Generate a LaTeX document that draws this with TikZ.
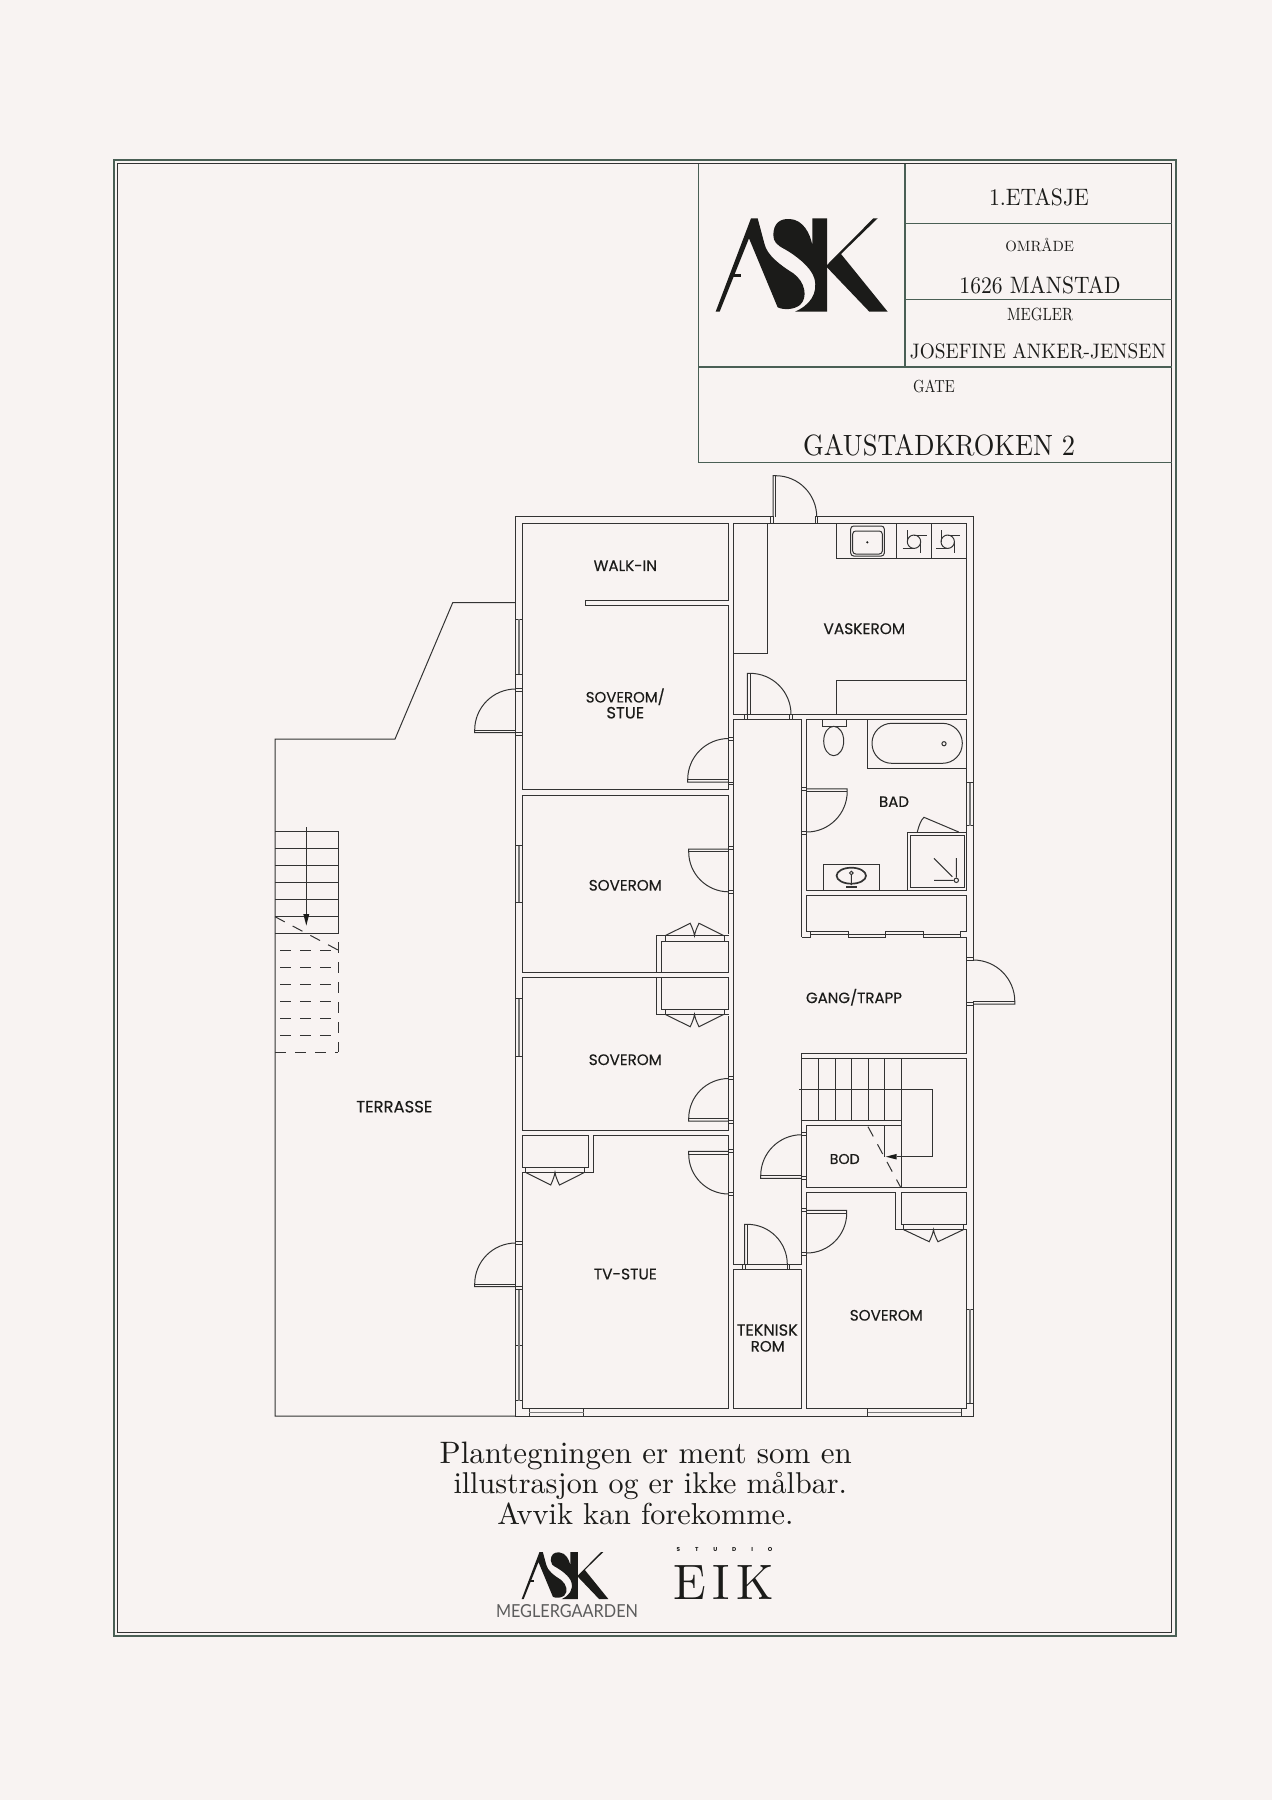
\documentclass[tikz,border=0pt]{standalone}
\usepackage{fontspec}
\usepackage{graphicx}
\newfontfamily\lab[FakeBold=0.25]{Poppins}
\newfontfamily\plainsans{Poppins}
\newfontfamily\lite{Lato}
\definecolor{bg}{HTML}{F8F3F2}
\definecolor{lc}{HTML}{333333}
\definecolor{ink}{HTML}{1B1B19}
\definecolor{frame}{HTML}{4A5F55}
\tikzset{
  wall/.style={draw=lc,line width=1pt,line join=miter},
  dashline/.style={draw=lc,line width=1pt,dash pattern=on 11pt off 9pt},
  framel/.style={draw=frame,line width=1.3pt},
  txt/.style={inner sep=0pt,outer sep=0pt,text=ink},
}
% door: hinge x,y, radius, leaf direction ax,ay, swing direction bx,by
\newcommand\dr[7]{%
  \draw[wall] ({#1-2.6*#6},{#2-2.6*#7}) -- ({#1-2.6*#6+#3*#4},{#2-2.6*#7+#3*#5}) -- ({#1+#3*#4},{#2+#3*#5})
    .. controls ({#1+#3*#4+.552*#3*#6},{#2+#3*#5+.552*#3*#7}) and ({#1+#3*#6+.552*#3*#4},{#2+#3*#7+.552*#3*#5}) .. ({#1+#3*#6},{#2+#3*#7});
  \draw[wall] (#1,#2) -- ({#1+#3*#4},{#2+#3*#5});}
\newcommand\jb[4]{\draw[wall,fill=bg] (#1,#2) rectangle (#3,#4);}
\newcommand\winv[4]{\draw[wall,fill=bg] (#1,#2) rectangle (#3,#4);
  \draw[lc!65,line width=1.8pt] ({(#1+#3)/2},#2) -- ({(#1+#3)/2},#4);}
\newcommand\winh[4]{\draw[wall,fill=bg] (#1,#2) rectangle (#3,#4);
  \draw[lc!65,line width=1.6pt] (#1,{(#2+#4)/2}) -- (#3,{(#2+#4)/2});}
% bifold: x1 x2 y0 ytip
\newcommand\bifold[4]{%
  \draw[wall] (#1,#3) -- ({(#1+#2)/2-4.3},#4) .. controls ({(#1+#2)/2-2},{#4+(#3-#4)*.4}) and ({(#1+#2)/2-.6},{#4+(#3-#4)*.7}) .. ({(#1+#2)/2},#3)
     .. controls ({(#1+#2)/2+.6},{#4+(#3-#4)*.7}) and ({(#1+#2)/2+2},{#4+(#3-#4)*.4}) .. ({(#1+#2)/2+4.5},#4) -- (#2,#3);}
\newcommand\tapsym[1]{\begin{scope}[shift={(#1,0)}]
  \draw[wall] (914,541.7) circle (6.7);
  \draw[wall] (914,535) -- (926.7,535) (920.7,541.7) -- (920.7,553.3) (907.3,530) -- (907.3,541.7) (902.7,548.4) -- (914,548.4);
  \end{scope}}
\newcommand\asklogo{%
  \fill[ink] (32,305) -- (138,25) -- (158,25) -- (178,100) .. controls (185,135) and (225,165) .. (265,190) .. controls (300,215) and (310,262) .. (285,285) .. controls (265,300) and (235,300) .. (218,292) -- (132,85) -- (44,305) -- cycle;
  \fill[ink] (80,192) rectangle (107,202);
  \fill[ink] (205,75) .. controls (205,40) and (225,25) .. (255,27) .. controls (295,30) and (315,70) .. (322,105) -- (322,25) -- (366,25) -- (366,305) -- (270,305) .. controls (315,285) and (340,250) .. (328,205) .. controls (318,170) and (270,135) .. (240,118) .. controls (215,105) and (205,95) .. (205,75) -- cycle;
  \fill[ink] (366,165) -- (505,25) -- (518,25) -- (408,132) -- (548,305) -- (493,305) -- (366,172) -- cycle;}
\newcommand\rl[2]{\resizebox{#1pt}{!}{\lab #2}}
\begin{document}
\begin{tikzpicture}[x=1pt,y=-1pt]
\fill[bg] (0,0) rectangle (1272,1800);
\useasboundingbox (0,0) rectangle (1272,1800);
% frame
\draw[framel,line width=1.1pt] (114,160) rectangle (1176,1636);
\draw[draw=lc,line width=1pt] (117,163.5) rectangle (1171.5,1632);
% title block
\draw[framel] (698.7,163.5) -- (698.7,462.7) -- (1171.5,462.7);
\draw[framel] (698.7,367) -- (1171.5,367);
\draw[framel] (905,163.5) -- (905,367);
\draw[framel] (905,223.3) -- (1171.5,223.3);
\draw[framel] (905,299.3) -- (1171.5,299.3);
\begin{scope}[shift={(705,210)},scale=0.33333]\asklogo\end{scope}
\node[txt] (etg) at (1039,197.7) {\resizebox{100pt}{17pt}{1.ETASJE}};
\node[txt] (omr) at (1039.7,245) {\resizebox{68.7pt}{!}{OMRÅDE}};
\node[txt] (post) at (1040,285.7) {\resizebox{161pt}{17pt}{1626 MANSTAD}};
\node[txt] (meg) at (1040,314) {\resizebox{66pt}{12.5pt}{MEGLER}};
\node[txt] (jos) at (1038,351.3) {\resizebox{256pt}{15pt}{JOSEFINE ANKER-JENSEN}};
\node[txt] (gate) at (934,386.7) {\resizebox{41.7pt}{12.5pt}{GATE}};
\node[txt] (addr) at (939,445) {\resizebox{272pt}{21pt}{GAUSTADKROKEN 2}};
% terrace
\draw[wall] (515.7,602.7) -- (452.7,602.7) -- (395,739) -- (275,739) -- (275,1416) -- (515.7,1416);
% outer stairs
\draw[wall] (275,831) -- (338,831) -- (338,933) -- (275,933);
\foreach \yy in {848,865,882,899,916} \draw[wall] (275,\yy) -- (338,\yy);
\draw[wall] (306.3,827.3) -- (306.3,914);
\fill[ink] (306.3,925.5) -- (303.3,914) -- (309.3,914) -- cycle;
\foreach \yy in {950,967,984,1001,1018,1035} \draw[dashline,dash phase=-5pt] (275,\yy) -- (338,\yy);
\draw[dashline,dash phase=0pt] (275,1052) -- (338,1052);
\draw[dashline] (338,942.3) -- (338,1052);
\draw[dashline] (275,916.7) -- (338,950);
% outer wall
\draw[wall] (773.3,516.7) -- (515.7,516.7) -- (515.7,1416) -- (973.3,1416) -- (973.3,1003) (973.3,959) -- (973.3,516.7) -- (815,516.7);
% left column rooms
\draw[wall] (728.7,600) -- (585.3,600) -- (585.3,605.3) -- (728.7,605.3) -- (728.7,789.3) -- (522.3,789.3) -- (522.3,523.3) -- (728.7,523.3) -- cycle;
\draw[wall] (522.3,795) rectangle (728.7,972.3);
\fill[bg] (655,934) rectangle (730,971.3);
\draw[wall] (728.7,935.7) -- (656,935.7) -- (656,972.3);
\draw[wall] (661.3,941.3) rectangle (728.7,972.3);
\draw[wall] (665,935.7) -- (665,941.3) (724,935.7) -- (724,941.3);
\bifold{665}{724}{935.7}{923.3}
\draw[wall] (522.3,977.7) rectangle (728.7,1130.7);
\fill[bg] (655,978.7) rectangle (730,1016);
\draw[wall] (656,977.7) -- (656,1014.3) -- (728.7,1014.3);
\draw[wall] (661.3,977.7) rectangle (728.7,1009);
\draw[wall] (665,1009) -- (665,1014.3) (724,1009) -- (724,1014.3);
\bifold{665}{724}{1014.3}{1026.7}
\draw[wall] (522.3,1172.3) -- (593.7,1172.3) -- (593.7,1135.7) -- (728.7,1135.7) -- (728.7,1408.7) -- (522.3,1408.7) -- cycle;
\draw[wall] (522.3,1135.7) rectangle (588.3,1167.3);
\draw[wall] (525.3,1167.3) -- (525.3,1172.3) (584.7,1167.3) -- (584.7,1172.3);
\bifold{525.3}{584.7}{1172.3}{1185}
% vaskerom
\draw[wall] (733.3,523.3) rectangle (966.7,714.3);
\draw[wall] (767.3,523.3) -- (767.3,653) -- (733.3,653);
\draw[wall] (836,523.3) -- (836,558.3) -- (966.7,558.3);
\draw[wall] (896,523.3) -- (896,558.3) (931.3,523.3) -- (931.3,558.3);
\draw[wall,rounded corners=3pt] (850.7,526) rectangle (884.3,556);
\draw[wall,rounded corners=3pt] (852.7,531) rectangle (882.3,554);
\fill[ink] (867.3,542.3) circle (1.2);
\tapsym{0}\tapsym{33.7}
\draw[wall] (836,714.3) -- (836,680.7) -- (966.7,680.7);
% hallway
\draw[wall] (801.7,937) -- (801.7,719.3) -- (733.3,719.3) -- (733.3,1264.3) -- (801.7,1264.3) -- (801.7,1053.3) -- (966.7,1053.3) -- (966.7,937) -- (960.7,937);
\draw[wall] (801.7,937) -- (810.7,937) -- (810.7,931.7);
% bad
\draw[wall] (806.7,719.7) rectangle (966.7,890.7);
\draw[wall] (822,719.7) rectangle (846,726.5);
\draw[wall] (833.7,741) ellipse (10 and 14.7);
\draw[wall] (867.3,719.7) rectangle (966.7,768);
\draw[wall,rounded corners=19.8pt] (872,723.3) rectangle (962.3,763.3);
\draw[wall] (944,743.7) circle (2.1);
\draw[wall] (907.7,890.7) rectangle (966.7,832.3);
\draw[wall] (910.7,835) rectangle (964,887.7);
\draw[wall] (917.3,832) .. controls (919,825) and (921,820) .. (924,817.3) -- (958.7,832);
\draw[wall] (956.3,880.3) circle (2.2);
\draw[wall] (934,858.3) -- (952.3,876.7) (934,880.3) -- (953.7,880.3) (956.3,858) -- (956.3,877.7);
\draw[wall] (823.3,890.7) -- (823.3,864.3) -- (879.7,864.3) -- (879.7,890.7);
\draw[draw=lc,line width=1.7pt] (851.3,875.7) ellipse (14.7 and 8);
\draw[wall] (851.3,873) circle (1.8) (851.3,875) -- (851.3,885);
\draw[draw=lc,line width=2pt] (846,886.5) -- (857,886.5);
% storage under bad
\draw[wall] (810.7,931.7) -- (806.7,931.7) -- (806.7,895.7) -- (966.7,895.7) -- (966.7,931.7) -- (960.7,931.7) -- (960.7,937);
\draw[wall] (810.7,931.7) rectangle (848.3,934.3);
\draw[wall] (848.3,934.3) rectangle (885.7,937);
\draw[wall] (885.7,931.7) rectangle (923.3,934.3);
\draw[wall] (923.3,934.3) rectangle (960.7,937);
% stairs and bod
\draw[wall] (801.7,1058.7) -- (966.7,1058.7) -- (966.7,1187.3) -- (806.7,1187.3) -- (806.7,1125.7) -- (901,1125.7);
\draw[wall] (801.7,1120.7) -- (901,1120.7);
\draw[wall] (901,1058.7) -- (901,1187.3);
\foreach \xx in {818.3,835,851.3,868,884.7} \draw[wall] (\xx,1058.7) -- (\xx,1120.7);
\draw[wall] (884.7,1125.7) -- (884.7,1156.7);
\draw[dashline] (868,1126.7) -- (900.5,1187);
\draw[wall] (799.3,1089.7) -- (932,1089.7) -- (932,1156.7) -- (896.7,1156.7);
\fill[ink] (885.7,1156.7) -- (896.7,1153.9) -- (896.7,1159.5) -- cycle;
% soverom right
\draw[wall] (806.7,1408.7) -- (806.7,1192.7) -- (895.7,1192.7) -- (895.7,1229.7) -- (966.7,1229.7) -- (966.7,1408.7) -- cycle;
\draw[wall] (901,1192.7) rectangle (966.7,1224.3);
\draw[wall] (903.7,1224.3) -- (903.7,1229.7) (963.3,1224.3) -- (963.3,1229.7);
\bifold{903.7}{963.3}{1229.7}{1241.7}
% teknisk
\draw[wall] (733.3,1269.3) rectangle (801.7,1408.7);
% windows
\winv{515.7}{619.3}{522.5}{674}
\winv{515.7}{845.7}{522.5}{902.3}
\winv{515.7}{998.7}{522.5}{1056}
\winv{515.7}{1289.3}{522.5}{1345}
\winv{515.7}{1345}{522.5}{1400.7}
\winv{966.7}{782.7}{973.3}{825.7}
\winv{966.7}{1309}{973.3}{1403.3}
\winh{529.3}{1408.7}{583.7}{1416}
\winh{867.7}{1408.7}{961.3}{1416}
% doors with jambs
\dr{775.7}{516.7}{41}{0}{-1}{1}{0}
\jb{770.5}{516.7}{773.3}{523.3}\jb{815}{516.7}{817.7}{523.3}
\dr{750}{714.3}{41}{0}{-1}{1}{0}
\jb{744.5}{714.3}{747.3}{719.3}\jb{789.3}{714.3}{792}{719.3}
\dr{728.7}{779.5}{41}{-1}{0}{0}{-1}
\jb{728.7}{737.7}{733.3}{740.7}\jb{728.7}{782}{733.3}{784.7}
\dr{515.7}{730}{41}{-1}{0}{0}{-1}
\jb{515.7}{688}{522.5}{691}\jb{515.7}{732.5}{522.5}{735.5}
\dr{728.7}{851.8}{40}{-1}{0}{0}{1}
\jb{728.7}{846.7}{733.3}{849.5}\jb{728.7}{890.7}{733.3}{893.7}
\dr{728.7}{1118.5}{40}{-1}{0}{0}{-1}
\jb{728.7}{1076}{733.3}{1079}\jb{728.7}{1120.5}{733.3}{1123.5}
\dr{728.7}{1154}{40}{-1}{0}{0}{1}
\jb{728.7}{1149.3}{733.3}{1152}\jb{728.7}{1192.7}{733.3}{1195.7}
\dr{515.7}{1284}{41}{-1}{0}{0}{-1}
\jb{515.7}{1241.3}{522.5}{1244.3}\jb{515.7}{1286}{522.5}{1289.3}
\dr{973.3}{1001.5}{41.5}{1}{0}{0}{-1}
\jb{966.7}{957}{973.3}{960}\jb{966.7}{1002}{973.3}{1005}
\dr{806.7}{791.5}{40.5}{1}{0}{0}{1}
\jb{801.7}{787.3}{806.7}{790}\jb{801.7}{831.3}{806.7}{834}
\dr{806.7}{1213}{40}{1}{0}{0}{1}
\jb{801.7}{1208.3}{806.7}{1211}\jb{801.7}{1252.3}{806.7}{1255}
\dr{801.7}{1175.7}{41}{-1}{0}{0}{-1}
\jb{801.7}{1132.7}{806.7}{1135.7}\jb{801.7}{1176.5}{806.7}{1179.5}
\dr{747.3}{1264.3}{40}{0}{-1}{1}{0}
\jb{742.3}{1264.3}{745}{1269.3}\jb{787}{1264.3}{789.5}{1269.3}
% room labels
\node[txt] (walkin) at (625.3,565.7) {\rl{63.3}{WALK-IN}};
\node[txt] (vask) at (864.3,628.7) {\rl{81.7}{VASKEROM}};
\node[txt] (sov0a) at (625.3,696.7) {\rl{79}{SOVEROM/}};
\node[txt] (sov0b) at (625.3,712.7) {\rl{37.7}{STUE}};
\node[txt] (bad) at (894,801.7) {\rl{30}{BAD}};
\node[txt] (gang) at (854,997.3) {\rl{96}{GANG/TRAPP}};
\node[txt] (sov1) at (625.3,885.3) {\rl{73}{SOVEROM}};
\node[txt] (sov2) at (625.3,1059.7) {\rl{73}{SOVEROM}};
\node[txt] (tv) at (625.3,1274) {\rl{63}{TV-STUE}};
\node[txt] (bod) at (844.7,1159) {\rl{30}{BOD}};
\node[txt] (sov3) at (886.3,1315.3) {\rl{73}{SOVEROM}};
\node[txt] (tek1) at (767.3,1330) {\rl{61}{TEKNISK}};
\node[txt] (tek2) at (767.7,1346.3) {\rl{34}{ROM}};
\node[txt] (terr) at (394.3,1106.7) {\rl{76}{TERRASSE}};
% bottom text
\node[txt,anchor=base west] (l1) at (439.7,1463) {\resizebox{412pt}{!}{Plantegningen er ment som en}};
\node[txt,anchor=base west] (l2) at (453.5,1493.3) {\resizebox{393.5pt}{!}{illustrasjon og er ikke målbar.}};
\node[txt,anchor=base west] (l3) at (497.3,1524.3) {\resizebox{296pt}{!}{Avvik kan forekomme.}};
\begin{scope}[shift={(516.3,1547.8)},scale=0.168]\asklogo\end{scope}
\node[txt,text=lc!80] (megl) at (567,1611) {\resizebox{142pt}{13pt}{\lite MEGLERGAARDEN}};
\node[txt] (studio) at (724.5,1549.3) {\resizebox{95.6pt}{!}{\plainsans\bfseries S\hspace{2.6em}T\hspace{2.6em}U\hspace{2.6em}D\hspace{2.6em}I\hspace{2.6em}O}};
\node[txt] (eik) at (723.8,1582.3) {\resizebox{101pt}{34pt}{E\hspace{.14em}I\hspace{.14em}K}};
\end{tikzpicture}
\end{document}
